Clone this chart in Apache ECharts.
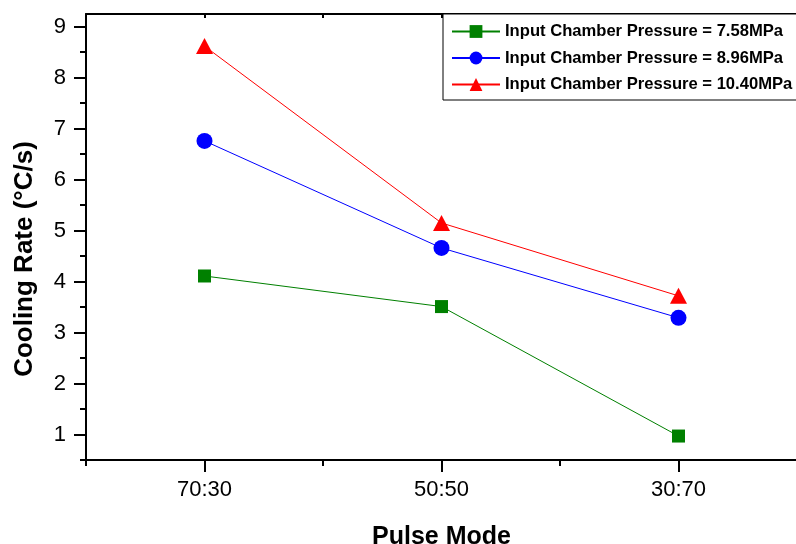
<!DOCTYPE html>
<html>
<head>
<meta charset="utf-8">
<script src="https://cdn.jsdelivr.net/npm/echarts@6/dist/echarts.min.js"></script>
<style>
html,body{margin:0;padding:0;background:#fff;}
#chart{width:796px;height:544px;}
</style>
</head>
<body>
<div id="chart"></div>
<script>
const categories = ['70:30', '50:50', '30:70'];
const seriesNames = ['Input Chamber Pressure = 7.58MPa', 'Input Chamber Pressure = 8.96MPa', 'Input Chamber Pressure = 10.40MPa'];
const p758 = [4.11, 3.51, 0.97];
const p896 = [6.76, 4.66, 3.29];
const p1040 = [8.62, 5.15, 3.72];
const yTicks = [1, 2, 3, 4, 5, 6, 7, 8, 9];
const yMinorTicks = [0.5, 1.5, 2.5, 3.5, 4.5, 5.5, 6.5, 7.5, 8.5];
const yMin = 0.5, yMax = 9.25;

const FONT = 'Arial, "Liberation Sans", sans-serif';
const chart = echarts.init(document.getElementById('chart'), null, {renderer: 'canvas'});
const gridRect = {left: 86, top: 14, right: -1, bottom: 84, containLabel: false, outerBoundsMode: 'none'};
const axisLineStyle = {color: '#000', width: 2};

chart.setOption({
  animation: false,
  backgroundColor: '#fff',
  grid: [Object.assign({}, gridRect), Object.assign({}, gridRect)],
  legend: {
    orient: 'vertical',
    left: 443,
    top: 14,
    padding: [9, 8, 7, 8],
    itemWidth: 48,
    itemHeight: 16,
    itemGap: 9.5,
    borderColor: '#000',
    borderWidth: 1,
    backgroundColor: '#fff',
    textStyle: {fontFamily: FONT, fontSize: 16.6, fontWeight: 'bold', color: '#000', lineHeight: 16},
    data: seriesNames
  },
  xAxis: [
    {
      gridIndex: 0, type: 'category', data: categories, position: 'bottom', boundaryGap: true,
      axisLine: {show: true, lineStyle: axisLineStyle},
      axisTick: {show: true, alignWithLabel: true, length: 12, lineStyle: {color: '#000', width: 2}},
      axisLabel: {fontFamily: FONT, fontSize: 22, color: '#000', margin: 19},
      splitLine: {show: false},
      name: 'Pulse Mode', nameLocation: 'middle', nameGap: 65,
      nameTextStyle: {fontFamily: FONT, fontSize: 25, fontWeight: 'bold', color: '#000'}
    },
    {
      gridIndex: 0, type: 'category', data: categories, position: 'top', boundaryGap: true,
      axisLine: {show: true, lineStyle: axisLineStyle},
      axisTick: {show: true, inside: true, alignWithLabel: true, length: 4, lineStyle: {color: '#000', width: 2}},
      axisLabel: {show: false}, splitLine: {show: false}
    },
    {
      gridIndex: 1, type: 'category', data: categories, position: 'bottom', boundaryGap: true,
      axisLine: {show: false},
      axisTick: {show: true, alignWithLabel: false, length: 6, lineStyle: {color: '#000', width: 2}},
      axisLabel: {show: false}, splitLine: {show: false}
    },
    {
      gridIndex: 1, type: 'category', data: categories, position: 'top', boundaryGap: true,
      axisLine: {show: false},
      axisTick: {show: true, inside: true, alignWithLabel: false, length: 4, lineStyle: {color: '#000', width: 2}},
      axisLabel: {show: false}, splitLine: {show: false}
    }
  ],
  yAxis: [
    {
      gridIndex: 0, type: 'value', min: yMin, max: yMax, position: 'left',
      axisLine: {show: true, lineStyle: axisLineStyle},
      axisTick: {show: true, length: 12, customValues: yTicks, lineStyle: {color: '#000', width: 2}},
      axisLabel: {fontFamily: FONT, fontSize: 22, color: '#000', margin: 20, customValues: yTicks},
      splitLine: {show: false},
      name: 'Cooling Rate (\u00B0C/s)', nameLocation: 'middle', nameGap: 48,
      nameTextStyle: {fontFamily: FONT, fontSize: 26, fontWeight: 'bold', color: '#000', padding: [0, 44, 0, 0]}
    },
    {
      gridIndex: 1, type: 'value', min: yMin, max: yMax, position: 'left',
      axisLine: {show: false},
      axisTick: {show: true, length: 6, customValues: yMinorTicks, lineStyle: {color: '#000', width: 2}},
      axisLabel: {show: false}, splitLine: {show: false}
    }
  ],
  series: [
    {
      name: seriesNames[0], type: 'line', xAxisIndex: 0, yAxisIndex: 0, data: p758,
      symbol: 'rect', symbolSize: 13,
      lineStyle: {color: '#008000', width: 1}, itemStyle: {color: '#008000'}
    },
    {
      name: seriesNames[1], type: 'line', xAxisIndex: 0, yAxisIndex: 0, data: p896,
      symbol: 'circle', symbolSize: 16,
      lineStyle: {color: '#0000FF', width: 1}, itemStyle: {color: '#0000FF'}
    },
    {
      name: seriesNames[2], type: 'line', xAxisIndex: 0, yAxisIndex: 0, data: p1040,
      symbol: 'triangle', symbolSize: [17, 16],
      lineStyle: {color: '#FF0000', width: 1}, itemStyle: {color: '#FF0000'}
    }
  ]
});
</script>
</body>
</html>
